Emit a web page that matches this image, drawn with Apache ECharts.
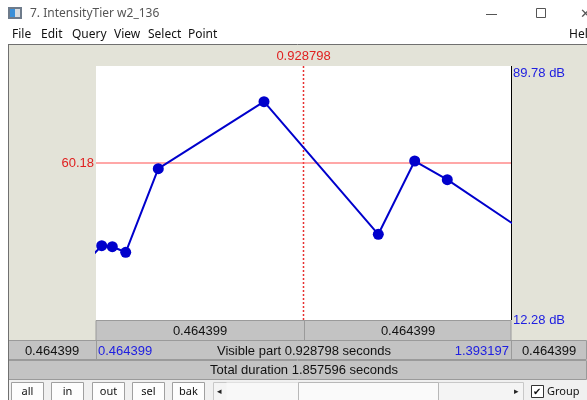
<!DOCTYPE html>
<html>
<head>
<meta charset="utf-8">
<script src="https://cdn.jsdelivr.net/npm/echarts@6/dist/echarts.min.js"></script>
<style>
html,body{margin:0;padding:0;background:#fff;}
#c{width:587px;height:400px;}
</style>
</head>
<body>
<div id="c"></div>
<script>
// Data (time in seconds, intensity in dB)
var times = [0.4286, 0.4772, 0.5009, 0.5309, 0.6038, 0.8404, 1.0962, 1.1777, 1.2506, 1.4563];
var intensities = [28.00, 34.95, 34.64, 32.94, 58.44, 78.89, 38.43, 60.79, 55.09, 36.26];
var visibleStart = 0.464399;
var visibleEnd = 1.393197;
var dbMin = 12.28;
var dbMax = 89.78;
var cursorTime = 0.928798;
var cursorDb = 60.18;
var titleText = "7. IntensityTier w2_136";
var menuItems = ["File", "Edit", "Query", "View", "Select", "Point"];
var menuX = [12, 41, 72, 114, 148, 188];
var buttons = ["all", "in", "out", "sel", "bak"];
var buttonX = [11, 51, 92, 132, 172];

var pts = times.map(function (t, i) { return [t, intensities[i]]; });

var GL = 96, GT = 66, GW = 415, GH = 254;
var BEIGE = '#E3E3D8', GRAY = '#C3C3C3', EDGE = '#9A9A9A';
var FONT = '"Liberation Sans", Arial, sans-serif';
var UIFONT = '"Noto Sans", "Open Sans", sans-serif';

var g = [];
function rect(x, y, w, h, fill, stroke, z) {
  g.push({type: 'rect', shape: {x: x, y: y, width: w, height: h}, style: {fill: fill, stroke: stroke || null, lineWidth: 1}, z: z || 0, silent: true});
}
function line(x1, y1, x2, y2, c, z) {
  g.push({type: 'line', shape: {x1: x1, y1: y1, x2: x2, y2: y2}, style: {stroke: c, lineWidth: 1}, z: z || 1, silent: true});
}
function text(x, y, s, c, size, align, font) {
  g.push({type: 'text', x: x, y: y, style: {text: s, fill: c, font: (size || 13) + 'px ' + (font || FONT), textAlign: align || 'left', textVerticalAlign: 'middle'}, z: 5, silent: true});
}

// title bar & menu
rect(0, 0, 587, 45, '#FFFFFF');
rect(8, 7, 14, 12, '#6E7B8B');
rect(10, 9, 5, 8, '#3A8FD8');
rect(15, 9, 5, 8, '#D8DCE0');
text(30, 14, titleText, '#555', 12, 'left', UIFONT);
line(486, 14.5, 497, 14.5, '#555');
rect(536.5, 8.5, 9, 9, null, '#555');
text(580, 14, '\u2715', '#555', 13, 'left', UIFONT);
menuItems.forEach(function (m, i) { text(menuX[i], 35, m, '#111', 12, 'left', UIFONT); });
text(569, 35, 'Help', '#111', 12, 'left', UIFONT);

// main beige area
rect(8, 44.5, 579, 297, BEIGE);
line(8, 44.5, 587, 44.5, '#707070');
line(8.5, 44.5, 8.5, 400, '#707070');

// plot white area
rect(GL, GT, GW, GH, '#FFFFFF');
line(GL + GW + 0.5, GT, GL + GW + 0.5, GT + GH, '#000');

// labels around plot
text(GL + GW / 2, 56, cursorTime.toFixed(6), '#E02020', 13, 'center');
text(513, 73, dbMax.toFixed(2) + ' dB', '#2020E0', 13, 'left');
text(513, 320, dbMin.toFixed(2) + ' dB', '#2020E0', 13, 'left');
text(94, 163, cursorDb.toFixed(2), '#E02020', 13, 'right');

// row 1
rect(GL, 320.5, GW, 20, GRAY, EDGE);
line(304.5, 320.5, 304.5, 340.5, EDGE);
var half = ((visibleEnd - visibleStart) / 2).toFixed(6);
text(200, 331, half, '#111', 13, 'center');
text(408, 331, half, '#111', 13, 'center');

// row 2
rect(8.5, 340.5, 578, 19, GRAY, EDGE);
line(GL + 0.5, 340.5, GL + 0.5, 359.5, EDGE);
line(GL + GW + 0.5, 340.5, GL + GW + 0.5, 359.5, EDGE);
text(52, 351, visibleStart.toFixed(6), '#111', 13, 'center');
text(98, 351, visibleStart.toFixed(6), '#2020E0', 13, 'left');
text(304, 351, 'Visible part ' + (visibleEnd - visibleStart).toFixed(6) + ' seconds', '#111', 13, 'center');
text(509, 351, visibleEnd.toFixed(6), '#2020E0', 13, 'right');
text(549, 351, visibleStart.toFixed(6), '#111', 13, 'center');

// row 3
rect(8.5, 360.5, 578, 19, GRAY, EDGE);
text(304, 370, 'Total duration 1.857596 seconds', '#111', 13, 'center');

// bottom bar
rect(9, 380, 578, 20, '#F0F0F0');
buttons.forEach(function (b, i) {
  rect(buttonX[i] + 0.5, 382.5, 32, 18, '#FDFDFD', '#A0A0A0');
  text(buttonX[i] + 16.5, 392, b, '#111', 11, 'center', UIFONT);
});
rect(213.5, 382.5, 310, 18, '#F4F4F4', '#C8C8C8');
rect(226.5, 382.5, 72, 18, '#F8F8F8');
rect(298.5, 382.5, 140, 18, '#FAFAFA', '#B8B8B8');
text(217, 392, '\u25C2', '#222', 9, 'left', FONT);
text(514, 392, '\u25B8', '#222', 9, 'left', FONT);
rect(531.5, 385.5, 12, 12, '#FFF', '#333');
text(533, 392, '\u2714', '#111', 10, 'left', FONT);
text(547, 392, 'Group', '#111', 11, 'left', UIFONT);

var chart = echarts.init(document.getElementById('c'));
chart.setOption({
  animation: false,
  backgroundColor: '#FFFFFF',
  color: ['#E02020', '#FF5050', '#0000CC'],
  graphic: {elements: g},
  grid: {left: GL, top: GT, width: GW, height: GH, show: false},
  xAxis: {type: 'value', min: visibleStart, max: visibleEnd, show: false},
  yAxis: {type: 'value', min: dbMin, max: dbMax, show: false},
  series: [{
    type: 'line',
    name: 'cursorT',
    color: '#E83030',
    data: [[cursorTime, dbMin], [cursorTime, dbMax]],
    symbol: 'none',
    silent: true,
    lineStyle: {color: '#E83030', width: 1.5, type: [2, 2], opacity: 1},
    z: 2
  }, {
    type: 'line',
    name: 'cursorDb',
    color: '#FF5050',
    data: [[visibleStart, cursorDb], [visibleEnd, cursorDb]],
    symbol: 'none',
    silent: true,
    lineStyle: {color: '#FF5050', width: 1.2, opacity: 1},
    z: 2
  }, {
    type: 'line',
    name: 'intensity',
    color: '#0000CC',
    data: pts,
    clip: true,
    symbol: 'circle',
    symbolSize: 11,
    showAllSymbol: true,
    lineStyle: {color: '#0000CC', width: 2},
    itemStyle: {color: '#0000CC'},
    z: 3
  }]
});
</script>
</body>
</html>
